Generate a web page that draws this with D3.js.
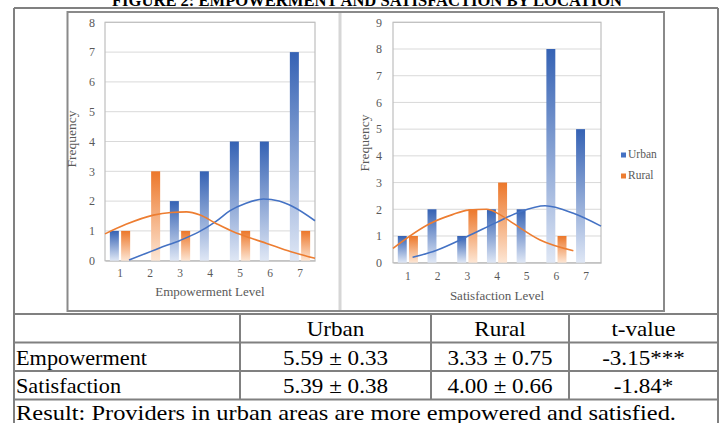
<!DOCTYPE html>
<html><head><meta charset="utf-8">
<script src="https://cdn.jsdelivr.net/npm/d3@7"></script>
<style>
html,body{margin:0;padding:0;background:#fff;}
svg{display:block;}
</style></head>
<body>
<svg id="c" width="723" height="423"></svg>
<script>
const titleText = "FIGURE 2: EMPOWERMENT AND SATISFACTION BY LOCATION";
const levels = [1, 2, 3, 4, 5, 6, 7];
const seriesNames = ["Urban", "Rural"];
const empUrban = [1, 0, 2, 3, 4, 4, 7];
const empRural = [1, 3, 1, 0, 1, 0, 1];
const satUrban = [1, 2, 1, 2, 2, 8, 5];
const satRural = [1, 0, 2, 3, 0, 1, 0];
const empTicks = [0, 1, 2, 3, 4, 5, 6, 7, 8];
const satTicks = [0, 1, 2, 3, 4, 5, 6, 7, 8, 9];
// fitted curves: [level position, frequency]
const empUrbanCurve = [[1.3,0.02],[2.3,0.42],[3.0,0.68],[3.6,0.95],[4.2,1.32],[4.67,1.68],[5.2,1.93],[5.78,2.07],[6.3,2.0],[6.77,1.81],[7.5,1.34]];
const empRuralCurve = [[0.5,0.9],[1.2,1.22],[2.11,1.53],[2.7,1.62],[3.22,1.64],[3.67,1.53],[4.2,1.25],[4.78,0.97],[5.3,0.78],[5.89,0.58],[6.7,0.3],[7.5,0.08]];
const satUrbanCurve = [[1.16,0.2],[1.97,0.47],[2.98,0.97],[3.99,1.51],[4.78,1.91],[5.62,2.13],[6.57,1.85],[7.5,1.37]];
const satRuralCurve = [[0.5,0.54],[1.75,1.47],[2.5,1.8],[3.04,1.97],[3.65,2.0],[4.1,1.8],[4.55,1.47],[5.45,0.85],[6.57,0.45]];
const tableHeader = ["", "Urban", "Rural", "t-value"];
const tableRowLabels = ["Empowerment", "Satisfaction"];
const tableUrban = ["5.59 ± 0.33", "5.39 ± 0.38"];
const tableRural = ["3.33 ± 0.75", "4.00 ± 0.66"];
const tableT = ["-3.15***", "-1.84*"];
const resultText = "Result: Providers in urban areas are more empowered and satisfied.";

const SERIF = "'Liberation Serif', 'Times New Roman', serif";
const svg = d3.select("#c");
const colors = {Urban: "#4472C4", Rural: "#ED7D31"};
const defs = svg.append("defs");
[["Urban", "#3562b4", "#dfe7f5"], ["Rural", "#ec772a", "#fde6d4"]].forEach(([k, c0, c1]) => {
  const g = defs.append("linearGradient").attr("id", "g" + k).attr("x1", 0).attr("y1", 0).attr("x2", 0).attr("y2", 1);
  g.append("stop").attr("offset", "0%").attr("stop-color", c0);
  g.append("stop").attr("offset", "100%").attr("stop-color", c1);
});

// title (cut off at the top of the picture, as in the reference)
svg.append("text").attr("x", 367).attr("y", 5.5).attr("text-anchor", "middle")
  .attr("font-family", SERIF).attr("font-weight", "bold").attr("font-size", 16)
  .style("font-variant", "small-caps").attr("textLength", 510).attr("lengthAdjust", "spacingAndGlyphs")
  .text(titleText);

// picture frame
svg.append("rect").attr("x", 67.5).attr("y", 12).attr("width", 596.5).attr("height", 299)
  .attr("fill", "#fff").attr("stroke", "#8a8a8a").attr("stroke-width", 2);
svg.append("line").attr("x1", 340).attr("x2", 340).attr("y1", 13).attr("y2", 310)
  .attr("stroke", "#d6d6d6").attr("stroke-width", 3);

function drawChart(cfg) {
  const g = svg.append("g");
  const [x0, x1] = cfg.xr, [yb, yt] = cfg.yr;
  const x = d3.scaleBand().domain(levels).range([x0, x1]);
  const xs = d3.scaleBand().domain(seriesNames).range([0, x.bandwidth()]).paddingInner(0.2).paddingOuter(0.43);
  const xl = d3.scaleLinear().domain([0.5, 7.5]).range([x0, x1]);
  const y = d3.scaleLinear().domain([0, d3.max(cfg.ticks)]).range([yb, yt]);
  g.append("g").selectAll("line").data(cfg.ticks.slice(1)).join("line")
    .attr("x1", x0).attr("x2", x1).attr("y1", d => y(d)).attr("y2", d => y(d))
    .attr("stroke", "#d9d9d9").attr("stroke-width", 1);
  g.append("rect").attr("x", x0).attr("y", yt).attr("width", x1 - x0).attr("height", yb - yt)
    .attr("fill", "none").attr("stroke", "#bfbfbf").attr("stroke-width", 1.2);
  const ya = g.append("g").attr("transform", `translate(${x0},0)`)
    .call(d3.axisLeft(y).tickValues(cfg.ticks).tickSize(0).tickPadding(cfg.ypad).tickFormat(d3.format("d")));
  ya.select(".domain").remove();
  ya.selectAll("text").attr("font-family", SERIF).attr("font-size", 12).attr("fill", "#595959");
  const xa = g.append("g").attr("transform", `translate(0,${yb})`)
    .call(d3.axisBottom(x).tickSize(0).tickPadding(cfg.xpad));
  xa.select(".domain").attr("stroke", "#bfbfbf");
  xa.selectAll("text").attr("font-family", SERIF).attr("font-size", 11.5).attr("fill", "#595959");
  const rows = levels.map((l, i) => ({level: l, Urban: cfg.urban[i], Rural: cfg.rural[i]}));
  g.append("g").selectAll("g").data(rows).join("g")
    .attr("transform", d => `translate(${x(d.level)},0)`)
    .selectAll("rect").data(d => seriesNames.map(s => ({s, v: d[s]})).filter(e => e.v > 0)).join("rect")
    .attr("x", e => xs(e.s)).attr("width", xs.bandwidth())
    .attr("y", e => y(e.v)).attr("height", e => yb - y(e.v))
    .attr("fill", e => `url(#g${e.s})`);
  const line = d3.line().x(d => xl(d[0])).y(d => y(d[1])).curve(d3.curveMonotoneX);
  [[cfg.urbanCurve, "Urban"], [cfg.ruralCurve, "Rural"]].forEach(([pts, s]) => {
    g.append("path").attr("d", line(pts)).attr("fill", "none").attr("stroke", colors[s]).attr("stroke-width", 1.6);
  });
  g.append("text").attr("x", (x0 + x1) / 2).attr("y", cfg.xtY).attr("text-anchor", "middle")
    .attr("font-family", SERIF).attr("font-size", 13).attr("fill", "#595959").text(cfg.xTitle);
  g.append("text").attr("transform", `translate(${cfg.ytX},${cfg.ytY}) rotate(-90)`).attr("text-anchor", "middle")
    .attr("font-family", SERIF).attr("font-size", 13.5).attr("fill", "#595959").text("Frequency");
}

drawChart({xr: [105, 315], yr: [260.7, 22.3], ticks: empTicks, urban: empUrban, rural: empRural,
  urbanCurve: empUrbanCurve, ruralCurve: empRuralCurve, ypad: 10, xpad: 8,
  xTitle: "Empowerment Level", xtY: 296, ytX: 76, ytY: 139});
drawChart({xr: [393, 601], yr: [262.7, 22.3], ticks: satTicks, urban: satUrban, rural: satRural,
  urbanCurve: satUrbanCurve, ruralCurve: satRuralCurve, ypad: 11, xpad: 9,
  xTitle: "Satisfaction Level", xtY: 300, ytX: 369, ytY: 143});

// legend
const leg = svg.append("g").selectAll("g").data(seriesNames).join("g")
  .attr("transform", (d, i) => `translate(621,${158 + i * 21})`);
leg.append("rect").attr("x", 0).attr("y", -5.5).attr("width", 5).attr("height", 5).attr("fill", d => colors[d]);
leg.append("text").attr("x", 7).attr("y", 0).attr("font-family", SERIF).attr("font-size", 11.5)
  .attr("fill", "#595959").text(d => d);

// table
const T = svg.append("g");
const L = 14, R = 718;
const colX = [L, 240, 431, 569, R];
const rowY = [314, 342.5, 371, 399.5];
const stroke = "#808080";
T.append("line").attr("x1", L).attr("x2", L).attr("y1", 8).attr("y2", 423).attr("stroke", stroke).attr("stroke-width", 2);
T.append("line").attr("x1", R).attr("x2", R).attr("y1", 8).attr("y2", 423).attr("stroke", stroke).attr("stroke-width", 2);
T.append("line").attr("x1", L).attr("x2", R).attr("y1", 8).attr("y2", 8).attr("stroke", stroke).attr("stroke-width", 2);
T.selectAll(".hl").data(rowY).join("line").attr("class", "hl")
  .attr("x1", L).attr("x2", R).attr("y1", d => d).attr("y2", d => d).attr("stroke", stroke).attr("stroke-width", 2);
T.selectAll(".vl").data(colX.slice(1, 4)).join("line").attr("class", "vl")
  .attr("x1", d => d).attr("x2", d => d).attr("y1", rowY[0]).attr("y2", rowY[3]).attr("stroke", stroke).attr("stroke-width", 2);

function cellText(txt, x, y, anchor, sx) {
  return T.append("text").attr("transform", `translate(${x},${y}) scale(${sx},1)`).attr("text-anchor", anchor)
    .attr("font-family", SERIF).attr("font-size", 21).attr("fill", "#000").text(txt);
}
const centers = [0, 1, 2, 3].map(i => (colX[i] + colX[i + 1]) / 2);
tableHeader.forEach((h, i) => { if (i > 0) cellText(h, centers[i], 336, "middle", 1.1); });
tableRowLabels.forEach((lab, r) => {
  const yy = 364.5 + r * 28.5;
  cellText(lab, 16, yy, "start", 1.06);
  cellText(tableUrban[r], centers[1], yy, "middle", 1.1);
  cellText(tableRural[r], centers[2], yy, "middle", 1.1);
  cellText(tableT[r], centers[3], yy, "middle", 1.1);
});
cellText(resultText, 16, 419.5, "start", 1).attr("textLength", 660).attr("lengthAdjust", "spacingAndGlyphs");
</script>
</body></html>
